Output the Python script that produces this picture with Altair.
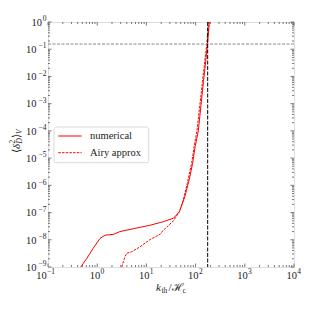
import altair as alt
import pandas as pd

# ---- data ----
k_num = [0.462, 0.617, 0.832, 1.14, 1.45, 2.14, 2.88, 11.7, 21.9, 35.5, 46.8,
         60.3, 74.1, 87.1, 97.7, 113.5, 144.5, 155.0, 174.0, 190.5, 200.0]
d_num = [1.0e-9, 2.09e-9, 4.9e-9, 1.12e-8, 1.48e-8, 1.58e-8, 2.0e-8, 3.4e-8,
         4.6e-8, 6.2e-8, 1.07e-7, 3.8e-7, 1.6e-6, 6.5e-6, 2.6e-5, 1.0e-4,
         6.5e-3, 2.0e-2, 0.145, 1.0, 2.5]

k_airy = [2.85, 2.95, 3.39, 3.72, 3.98, 5.0, 7.4, 11.7, 19.1, 21.9, 35.5, 46.8,
          56.2, 67.6, 83.2, 93.3, 107.0, 138.0, 168.0, 184.0, 195.0]
d_airy = [4.0e-10, 6.3e-10, 1.55e-9, 2.5e-9, 3.2e-9, 3.6e-9, 5.5e-9, 1.0e-8,
          1.6e-8, 2.2e-8, 5.0e-8, 1.07e-7, 2.9e-7, 1.17e-6, 6.5e-6, 2.6e-5,
          1.07e-4, 6.5e-3, 0.145, 1.0, 2.5]

legend_labels = ["numerical", "Airy approx"]
threshold_y = [0.155]
k_vertical = [176.0]

x_ticks = [0.1, 1, 10, 100, 1000, 10000]
x_tick_exps = ["−1", "0", "1", "2", "3", "4"]
y_ticks = [1e-9, 1e-8, 1e-7, 1e-6, 1e-5, 1e-4, 1e-3, 1e-2, 1e-1, 1]
y_tick_exps = ["−9", "−8", "−7", "−6", "−5", "−4", "−3", "−2", "−1", "0"]
tick_base = "10"

x_minor = [m * 10.0 ** e for e in range(-1, 4) for m in range(2, 10)]
y_minor = [m * 10.0 ** e for e in range(-9, 0) for m in range(2, 10)]

# ---- layout / style ----
W, H = 246, 245
FONT = "Liberation Serif"
AX = "#555555"
TXT = "#222222"
BASE_FS = 10.5
EXP_FS = 7.5

xscale = alt.Scale(type="log", domain=[0.1, 1e4], nice=False)
yscale = alt.Scale(type="log", domain=[1e-9, 1], nice=False)


def X(f):
    return alt.X(f, type="quantitative", scale=xscale, axis=None)


def Y(f):
    return alt.Y(f, type="quantitative", scale=yscale, axis=None)


layers = []

# curves
df_num = pd.DataFrame({"k": k_num, "d": d_num})
df_airy = pd.DataFrame({"k": k_airy, "d": d_airy})
layers.append(alt.Chart(df_num).mark_line(color="#ff0000", strokeWidth=1, clip=True)
              .encode(x=X("k"), y=Y("d")))
layers.append(alt.Chart(df_airy).mark_line(color="#ff0000", strokeWidth=1,
                                           strokeDash=[2.5, 1.2], clip=True)
              .encode(x=X("k"), y=Y("d")))

# reference lines
layers.append(alt.Chart(pd.DataFrame({"y": threshold_y}))
              .mark_rule(color="#888888", strokeWidth=1, strokeDash=[3, 1.5])
              .encode(y=Y("y")))
layers.append(alt.Chart(pd.DataFrame({"k": k_vertical}))
              .mark_rule(color="#000000", strokeWidth=1, strokeDash=[4, 1.5])
              .encode(x=X("k")))


# inward ticks on all four sides
def xt(vals, ln, top):
    df = pd.DataFrame({"v": vals})
    if top:
        enc = dict(y=alt.value(0), y2=alt.value(ln))
    else:
        enc = dict(y=alt.value(H), y2=alt.value(H - ln))
    return alt.Chart(df).mark_rule(color=AX, strokeWidth=0.8).encode(x=X("v"), **enc)


def yt(vals, ln, right):
    df = pd.DataFrame({"v": vals})
    if right:
        enc = dict(x=alt.value(W), x2=alt.value(W - ln))
    else:
        enc = dict(x=alt.value(0), x2=alt.value(ln))
    return alt.Chart(df).mark_rule(color=AX, strokeWidth=0.8).encode(y=Y("v"), **enc)


for side in (False, True):
    layers.append(xt(x_ticks, 3.5, side))
    layers.append(xt(x_minor, 2, side))
    layers.append(yt(y_ticks, 3.5, side))
    layers.append(yt(y_minor, 2, side))

# tick labels: "10" plus a raised exponent
def split(vals, exps):
    neg = pd.DataFrame([{"v": v, "b": tick_base, "e": e} for v, e in zip(vals, exps) if e.startswith("−")])
    pos = pd.DataFrame([{"v": v, "b": tick_base, "e": e} for v, e in zip(vals, exps) if not e.startswith("−")])
    return neg, pos


xneg, xpos = split(x_ticks, x_tick_exps)
for df, dx in ((xneg, -1.3), (xpos, 3.0)):
    layers.append(alt.Chart(df).mark_text(align="right", baseline="middle", dx=dx,
                                          font=FONT, fontSize=BASE_FS, color=TXT)
                  .encode(x=X("v"), y=alt.value(H + 8.5), text="b:N"))
    layers.append(alt.Chart(df).mark_text(align="left", baseline="middle", dx=dx + 0.3,
                                          font=FONT, fontSize=EXP_FS, color=TXT)
                  .encode(x=X("v"), y=alt.value(H + 4.5), text="e:N"))

yneg, ypos = split(y_ticks, y_tick_exps)
for df, bx in ((yneg, -11.5), (ypos, -6.0)):
    layers.append(alt.Chart(df).mark_text(align="right", baseline="middle", dy=0.8,
                                          font=FONT, fontSize=BASE_FS, color=TXT)
                  .encode(y=Y("v"), x=alt.value(bx), text="b:N"))
    layers.append(alt.Chart(df).mark_text(align="right", baseline="middle", dy=-2.8,
                                          font=FONT, fontSize=EXP_FS, color=TXT)
                  .encode(y=Y("v"), x=alt.value(-1.5), text="e:N"))

one = alt.Data(values=[{}])

# legend (box, samples, labels)
layers.append(alt.Chart(one).mark_rect(fill="white", fillOpacity=0.8, stroke="#d0d0d0",
                                       strokeWidth=0.8, cornerRadius=2)
              .encode(x=alt.value(6), x2=alt.value(100.7), y=alt.value(105), y2=alt.value(140.7)))
layers.append(alt.Chart(one).mark_rule(color="#ff0000", strokeWidth=1)
              .encode(x=alt.value(10.3), x2=alt.value(33.7), y=alt.value(114)))
layers.append(alt.Chart(one).mark_rule(color="#ff0000", strokeWidth=1, strokeDash=[2.5, 1.2])
              .encode(x=alt.value(10.3), x2=alt.value(33.7), y=alt.value(130.7)))
for lbl, yy in zip(legend_labels, [114, 130.7]):
    layers.append(alt.Chart(one).mark_text(align="left", baseline="middle", font=FONT,
                                           fontSize=10.5, color=TXT, text=lbl)
                  .encode(x=alt.value(42), y=alt.value(yy)))


# axis titles built from pieces (sub/superscripts)
def piece(txt, x, y, size, italic=False, angle=0):
    return (alt.Chart(one)
            .mark_text(align="left", baseline="middle", font=FONT, fontSize=size,
                       fontStyle="italic" if italic else "normal", color=TXT,
                       angle=angle, text=txt)
            .encode(x=alt.value(x), y=alt.value(y)))


# x title: k_th / H_c
layers.append(piece("k", 108, 266, 11, italic=True))
layers.append(piece("th", 113.5, 269, 7.5))
layers.append(piece("/", 120.5, 266, 11))
layers.append(piece("ℋ", 124, 266, 11))
layers.append(piece("c", 134.5, 269, 7.5))

# y title: <delta^2_D>_V  (rotated, reads bottom to top)
layers.append(piece("⟨", -31.5, 131, 11, angle=270))
layers.append(piece("δ", -31.5, 127, 11, italic=True, angle=270))
layers.append(piece("2", -35, 121.5, 7.5, angle=270))
layers.append(piece("D", -28, 121.5, 7.5, italic=True, angle=270))
layers.append(piece("⟩", -31.5, 116, 11, angle=270))
layers.append(piece("V", -28.5, 112, 7.5, italic=True, angle=270))

chart = (alt.layer(*layers)
         .properties(width=W, height=H,
                     autosize=alt.AutoSizeParams(type="none"),
                     padding={"left": 40, "top": 14, "right": 10, "bottom": 37})
         .configure_view(stroke=AX, strokeWidth=1)
         .configure(background="white"))

chart.save("out.html", embed_options={"renderer": "svg", "actions": False})
